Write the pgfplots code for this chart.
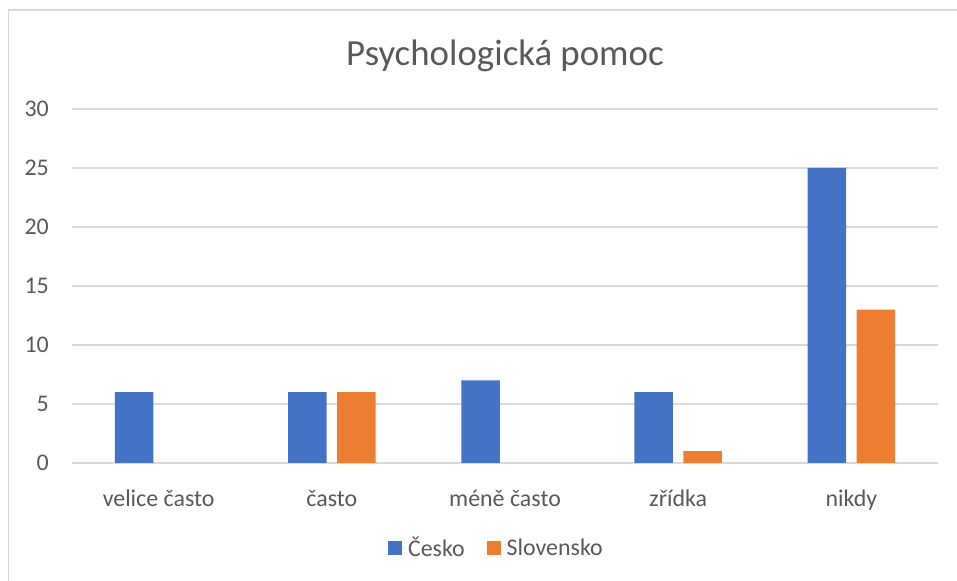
\documentclass[border=0pt]{standalone}
\usepackage{fontspec}
\setmainfont{Carlito}
\usepackage{pgfplots}
\pgfplotsset{compat=1.18}
\usepackage{xcolor}
\definecolor{czblue}{HTML}{4472C4}
\definecolor{skorange}{HTML}{ED7D31}
\definecolor{txtgray}{HTML}{595959}
\definecolor{gridgray}{HTML}{D9D9D9}

\begin{document}
\begin{tikzpicture}[x=1bp,y=1bp]
\path[use as bounding box] (0,0) rectangle (957,581);
% chart frame (cut off at the right and bottom)
\draw[gridgray, line width=1.3bp] (8.5,0) -- (8.5,571) -- (957,571);

\begin{axis}[
    at={(72bp,118bp)}, anchor=south west,
    scale only axis,
    width=866bp, height=354bp,
    ybar=10.5bp,
    bar width=38.5bp,
    xmin=-0.5, xmax=4.5,
    ymin=0, ymax=30,
    enlarge x limits=false,
    xtick={0,1,2,3,4},
    xticklabels={velice často, často, méně často, zřídka, nikdy},
    ytick={0,5,10,15,20,25,30},
    axis line style={draw=none},
    tick style={draw=none},
    ymajorgrids,
    grid style={gridgray, line width=1.3bp},
    /pgf/number format/assume math mode=true,
    tick label style={font=\fontsize{24}{28}\selectfont, text=txtgray},
    xticklabel style={anchor=base, yshift=-39bp},
    yticklabel style={anchor=east, inner sep=0pt, xshift=-23bp},
    title={Psychologická pomoc},
    title style={font=\fontsize{37}{42}\selectfont, text=txtgray,
        at={(axis description cs:0.5,1)}, anchor=base, yshift=38bp},
    legend columns=2,
    legend style={at={(axis description cs:0.49,-0.24)}, anchor=center,
        draw=none, fill=none, font=\fontsize{24}{28}\selectfont,
        text=txtgray,
        /tikz/every even column/.append style={column sep=20bp}},
    legend cell align=left,
    legend image code/.code={
        \fill[#1] (0bp,-7bp) rectangle (14bp,7bp);
        \path (14bp,0bp) -- (18bp,0bp);},
]

% zero values (velice často, méně často) are left out: Excel draws nothing there
\addplot[fill=czblue, draw=none] coordinates {
    (0, 6)
    (1, 6)
    (2, 7)
    (3, 6)
    (4, 25)
};

\addplot[fill=skorange, draw=none] coordinates {
    (1, 6)
    (3, 1)
    (4, 13)
};

\legend{Česko, Slovensko}
\end{axis}
\end{tikzpicture}
\end{document}
